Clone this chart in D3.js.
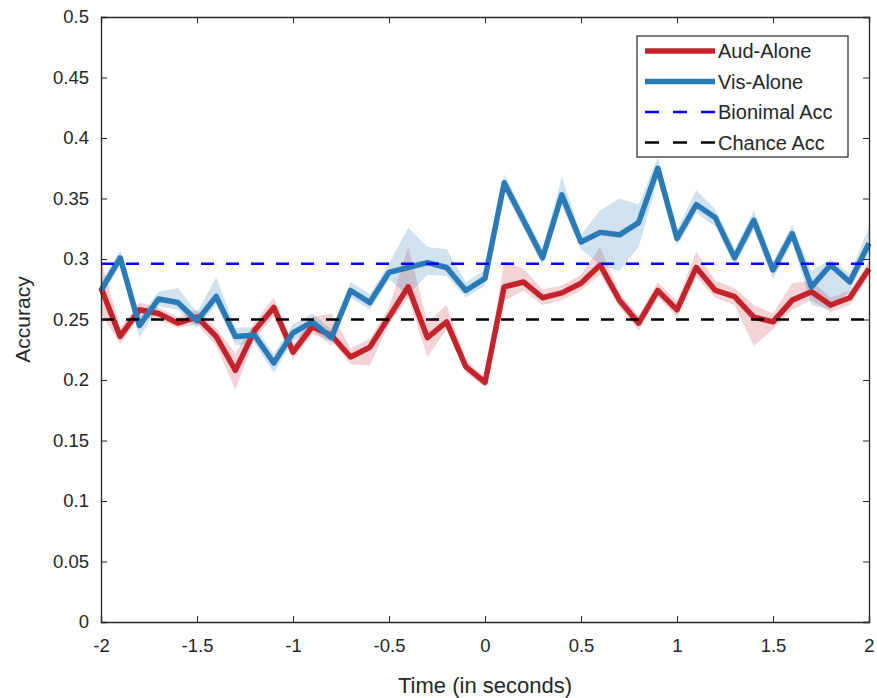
<!DOCTYPE html>
<html>
<head>
<meta charset="utf-8">
<script src="https://cdn.jsdelivr.net/npm/d3@7"></script>
<style>
  body { margin: 0; background: #fff; }
  svg { font-family: "Liberation Sans", Arial, sans-serif; }
</style>
</head>
<body>
<svg id="chart" width="877" height="698"></svg>
<script>
// time points (s)
const time = [-2.0,-1.9,-1.8,-1.7,-1.6,-1.5,-1.4,-1.3,-1.2,-1.1,-1.0,-0.9,-0.8,-0.7,-0.6,-0.5,-0.4,-0.3,-0.2,-0.1,
  0.0,0.1,0.2,0.3,0.4,0.5,0.6,0.7,0.8,0.9,1.0,1.1,1.2,1.3,1.4,1.5,1.6,1.7,1.8,1.9,2.0];

const audMean = [0.276,0.236,0.258,0.255,0.247,0.252,0.236,0.208,0.241,0.260,0.223,0.244,0.237,0.219,0.227,0.252,0.277,0.235,0.248,0.211,
  0.198,0.277,0.281,0.268,0.272,0.280,0.295,0.266,0.247,0.274,0.258,0.293,0.274,0.269,0.252,0.248,0.266,0.273,0.262,0.268,0.292];
const audLower = [0.255,0.230,0.252,0.250,0.243,0.246,0.228,0.192,0.234,0.252,0.217,0.238,0.232,0.213,0.212,0.246,0.268,0.219,0.242,0.206,
  0.194,0.265,0.274,0.262,0.266,0.274,0.287,0.260,0.241,0.268,0.252,0.285,0.268,0.262,0.228,0.242,0.258,0.266,0.256,0.262,0.286];
const audUpper = [0.300,0.243,0.264,0.260,0.252,0.258,0.243,0.222,0.248,0.268,0.229,0.252,0.255,0.226,0.234,0.260,0.310,0.248,0.262,0.216,
  0.202,0.298,0.292,0.275,0.278,0.287,0.310,0.272,0.253,0.281,0.265,0.306,0.282,0.276,0.262,0.255,0.280,0.282,0.268,0.274,0.298];

const visMean = [0.274,0.301,0.245,0.267,0.264,0.249,0.269,0.236,0.237,0.214,0.239,0.248,0.235,0.274,0.264,0.289,0.293,0.297,0.293,0.274,
  0.284,0.363,0.332,0.301,0.353,0.314,0.322,0.320,0.330,0.375,0.317,0.345,0.334,0.301,0.332,0.291,0.321,0.277,0.295,0.281,0.313];
const visLower = [0.268,0.295,0.235,0.261,0.258,0.243,0.262,0.229,0.230,0.206,0.232,0.242,0.228,0.268,0.258,0.283,0.270,0.287,0.286,0.268,
  0.278,0.356,0.325,0.295,0.344,0.308,0.295,0.290,0.310,0.365,0.311,0.338,0.327,0.295,0.324,0.283,0.314,0.262,0.258,0.274,0.305];
const visUpper = [0.281,0.307,0.252,0.273,0.276,0.256,0.285,0.243,0.244,0.222,0.246,0.255,0.242,0.281,0.271,0.296,0.326,0.310,0.308,0.281,
  0.291,0.370,0.339,0.308,0.368,0.320,0.340,0.350,0.345,0.384,0.324,0.357,0.341,0.308,0.340,0.298,0.328,0.290,0.300,0.288,0.326];

const binomialAcc = 0.296;
const chanceAcc = 0.25;

const xTicks = [-2,-1.5,-1,-0.5,0,0.5,1,1.5,2];
const yTicks = [0,0.05,0.1,0.15,0.2,0.25,0.3,0.35,0.4,0.45,0.5];

const legendItems = [
  {label: 'Aud-Alone', color: '#c4232b', dash: null, w: 5.5},
  {label: 'Vis-Alone', color: '#2a7ab8', dash: null, w: 5.5},
  {label: 'Bionimal Acc', color: '#0000ff', dash: '13,12', w: 2.5},
  {label: 'Chance Acc', color: '#000000', dash: '13,12', w: 2.5},
];

const margin = {top: 17, right: 8, bottom: 76, left: 101};
const width = 877, height = 698;
const axisColor = '#262626';

const svg = d3.select('#chart');
const g = svg.append('g').attr('transform', `translate(${margin.left},${margin.top})`);
const w = width - margin.left - margin.right;
const h = height - margin.top - margin.bottom;

const x = d3.scaleLinear().domain([-2, 2]).range([0, w]);
const y = d3.scaleLinear().domain([0, 0.5]).range([h, 0]);

// bands
const area = (lo, hi) => d3.area()
  .x((d, i) => x(time[i]))
  .y0((d, i) => y(lo[i]))
  .y1((d, i) => y(hi[i]));

g.append('path').attr('d', area(audLower, audUpper)(time))
  .attr('fill', '#c4232b').attr('fill-opacity', 0.2);
g.append('path').attr('d', area(visLower, visUpper)(time))
  .attr('fill', '#2a7ab8').attr('fill-opacity', 0.22);

// mean lines
const line = vals => d3.line().x((d, i) => x(time[i])).y((d, i) => y(vals[i]))(time);
g.append('path').attr('d', line(audMean)).attr('fill', 'none')
  .attr('stroke', legendItems[0].color).attr('stroke-width', 5.5).attr('stroke-linejoin', 'round');
g.append('path').attr('d', line(visMean)).attr('fill', 'none')
  .attr('stroke', legendItems[1].color).attr('stroke-width', 5.5).attr('stroke-linejoin', 'round');

// reference lines
[[binomialAcc, legendItems[2]], [chanceAcc, legendItems[3]]].forEach(([v, it]) => {
  g.append('line').attr('x1', 0).attr('x2', w).attr('y1', y(v)).attr('y2', y(v))
    .attr('stroke', it.color).attr('stroke-width', it.w).attr('stroke-dasharray', it.dash);
});

// axes (box with inward ticks)
const tl = 6;
const fmt = d => String(d);
const xAx = g.append('g').attr('transform', `translate(0,${h})`)
  .call(d3.axisBottom(x).tickValues(xTicks).tickSize(-tl).tickPadding(17).tickFormat(fmt));
const xTop = g.append('g')
  .call(d3.axisTop(x).tickValues(xTicks).tickSize(-tl).tickFormat(''));
const yAx = g.append('g')
  .call(d3.axisLeft(y).tickValues(yTicks).tickSize(-tl).tickPadding(12).tickFormat(fmt));
const yRight = g.append('g').attr('transform', `translate(${w},0)`)
  .call(d3.axisRight(y).tickValues(yTicks).tickSize(-tl).tickFormat(''));

[xAx, xTop, yAx, yRight].forEach(a => {
  a.select('.domain').attr('stroke', axisColor).attr('stroke-width', 1.3);
  a.selectAll('.tick line').attr('stroke', axisColor).attr('stroke-width', 1);
  a.selectAll('.tick text').attr('fill', axisColor).attr('font-size', 18.5)
    .attr('font-family', '"Liberation Sans", Arial, sans-serif');
});

// titles
svg.append('text').attr('x', margin.left + w / 2).attr('y', 693)
  .attr('text-anchor', 'middle').attr('font-size', 22).attr('fill', axisColor)
  .text('Time (in seconds)');
svg.append('text').attr('transform', `translate(30,${margin.top + h / 2}) rotate(-90)`)
  .attr('text-anchor', 'middle').attr('font-size', 21).attr('fill', axisColor)
  .text('Accuracy');

// legend
const lg = svg.append('g').attr('transform', 'translate(637,36)');
lg.append('rect').attr('width', 211).attr('height', 121)
  .attr('fill', '#fff').attr('stroke', axisColor).attr('stroke-width', 1.2);
legendItems.forEach((it, i) => {
  const yy = 15 + i * 30.5;
  lg.append('line').attr('x1', 8).attr('x2', 78).attr('y1', yy).attr('y2', yy)
    .attr('stroke', it.color).attr('stroke-width', it.dash ? 2.5 : 5.5)
    .attr('stroke-dasharray', it.dash ? '14,14' : null);
  lg.append('text').attr('x', 81).attr('y', yy).attr('dy', '0.35em')
    .attr('font-size', 20).attr('fill', axisColor).text(it.label);
});
</script>
</body>
</html>
